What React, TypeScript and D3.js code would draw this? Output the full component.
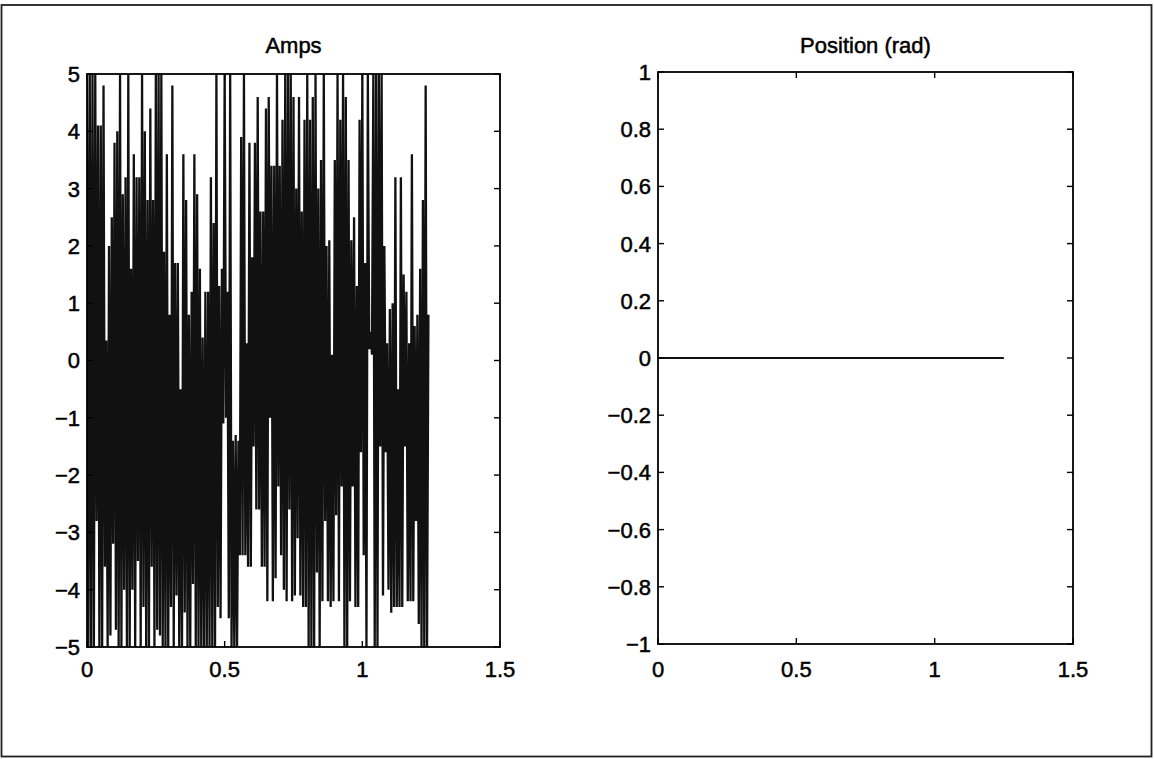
import React from "react";
import * as d3 from "d3";

// ---- Data ----
const sampleStep = 0.005; // s between current samples
const ampsValues: number[] = [
  5, -5, 5, -5, 5, -5, 5, -2.8, 4.1, -5, 4.1, -5, 4.8, -3.6, 0.35, -5, 2.0, -4.8, 2.5, -3.2,
  3.8, -4.7, 4.0, -5, 5, -5, 2.9, -4.0, 3.2, -5, 5, -5, 1.6, -4.0, 3.6, -5, 3.2, -3.5, 3.2, -5,
  5, -4.3, 4.0, -5, 2.8, -5, 4.4, -3.6, 2.8, -5, 5, -4.7, 5, -4.8, 5, -5, 1.9, -5, 3.6, -5,
  0.8, -4.3, 4.8, -5, 1.7, -4.1, 1.7, -5, -0.5, -5, 3.6, -4.4, 2.8, -5, 0.8, -5, 1.2, -3.9, 3.6, -5,
  2.9, -5, 1.6, -5, 0.4, -5, 1.2, -5, 1.2, -5, 3.2, -5, 2.4, -5, 5, -4.3, 1.3, -4.5, 1.6, -1.1,
  5, -1.0, 1.2, -4.5, 5, -5, -1.4, -5, -1.3, -5, -1.4, -3.4, 3.9, -3.4, 5, -3.4, 0.3, -3.6, 3.8, -3.6,
  1.8, -1.5, 3.8, -2.6, 4.6, -2.6, 2.6, -3.6, 2.6, -3.6, 4.4, -4.2, 4.6, -1.0, 3.4, -4.2, 3.4, -3.8, 5, -2.2,
  3.4, -3.4, 4.2, -4.0, 5, -4.2, 5, -2.6, 5, -4.2, 4.6, -4.1, 3.0, -3.1, 4.6, -4.1, 2.6, -4.3, 4.2, -4.3,
  5, -5, 4.2, -5, 4.6, -5, 5, -3.7, 3.0, -5, 3.5, -4.2, 5, -2.8, 2.0, -4.2, 2.1, -4.3, 0.1, -4.2,
  3.5, -2.7, 5, -4.2, 4.2, -2.2, 5, -5, 4.6, -5, 3.5, -4.2, 2.1, -2.2, 2.5, -4.3, 1.3, -4.3, 4.2, -1.6,
  5, -3.4, 1.7, -5, 5, 0.2, 0.5, 0.1, 5, -5, 5, -5, 5, -1.5, 5, -4.1, 2.0, -1.6, 0.3, -4.0,
  0.9, -4.4, 1.0, -4.3, 3.2, -4.3, -0.5, -4.3, 3.2, -4.3, 1.5, -1.5, 1.2, -4.2, 0.3, -4.2, 3.6, -4.2, 0.6, -2.8,
  0.8, -4.6, 1.6, -5, 2.8, -5, 4.8, -5, 0.8,
];
const positionTimes = [0, 0.25, 0.5, 0.75, 1.0, 1.25];
const positionValues = [0, 0, 0, 0, 0, 0];

const xTicks = [0, 0.5, 1, 1.5];
const xTickLabels = ["0", "0.5", "1", "1.5"];
const ampsTicks = [-5, -4, -3, -2, -1, 0, 1, 2, 3, 4, 5];
const posTicks = [-1, -0.8, -0.6, -0.4, -0.2, 0, 0.2, 0.4, 0.6, 0.8, 1];

const titles = ["Amps", "Position (rad)"];

const W = 1154;
const H = 759;
const FONT = "'Liberation Sans', Arial, Helvetica, sans-serif";
const FS = 22;

function fmt(v: number): string {
  const s = d3.format("~g")(Math.round(v * 10) / 10);
  return s.replace("-", "\u2212");
}

type PanelProps = {
  x0: number;
  x1: number;
  y0: number;
  y1: number;
  yDomain: [number, number];
  yTicks: number[];
  title: string;
  times: number[];
  values: number[];
  strokeW: number;
  clipId: string;
};

const textStyle = {
  fontFamily: FONT,
  fontSize: FS,
  fill: "#000",
  stroke: "#000",
  strokeWidth: 0.5,
};

function Panel(p: PanelProps) {
  const xs = d3.scaleLinear().domain([0, 1.5]).range([p.x0, p.x1]);
  const ys = d3.scaleLinear().domain(p.yDomain).range([p.y1, p.y0]);
  const pts: [number, number][] = p.values.map((v, i) => [p.times[i], v]);
  const line = d3
    .line<[number, number]>()
    .x((d) => xs(d[0]))
    .y((d) => ys(d[1]));
  const tl = 6;
  return (
    <g>
      <defs>
        <clipPath id={p.clipId}>
          <rect x={p.x0} y={p.y0 - 1} width={p.x1 - p.x0} height={p.y1 - p.y0 + 2} />
        </clipPath>
      </defs>
      <path
        d={line(pts) || ""}
        fill="none"
        stroke="#111"
        strokeWidth={p.strokeW}
        strokeLinejoin="bevel"
        clipPath={`url(#${p.clipId})`}
      />
      <rect
        x={p.x0}
        y={p.y0}
        width={p.x1 - p.x0}
        height={p.y1 - p.y0}
        fill="none"
        stroke="#000"
        strokeWidth={1.8}
      />
      {xTicks.map((t, i) => (
        <g key={"xt" + i}>
          <line x1={xs(t)} x2={xs(t)} y1={p.y1} y2={p.y1 - tl} stroke="#000" strokeWidth={1.4} />
          <line x1={xs(t)} x2={xs(t)} y1={p.y0} y2={p.y0 + tl} stroke="#000" strokeWidth={1.4} />
          <text x={xs(t)} y={677} textAnchor="middle" style={textStyle}>
            {xTickLabels[i]}
          </text>
        </g>
      ))}
      {p.yTicks.map((t, i) => (
        <g key={"yt" + i}>
          <line x1={p.x0} x2={p.x0 + tl} y1={ys(t)} y2={ys(t)} stroke="#000" strokeWidth={1.4} />
          <line x1={p.x1} x2={p.x1 - tl} y1={ys(t)} y2={ys(t)} stroke="#000" strokeWidth={1.4} />
          <text x={p.x0 - 7} y={ys(t)} dy="0.36em" textAnchor="end" style={textStyle}>
            {fmt(t)}
          </text>
        </g>
      ))}
      <text x={(p.x0 + p.x1) / 2} y={53} textAnchor="middle" style={textStyle}>
        {p.title}
      </text>
    </g>
  );
}

export default function App() {
  const ampsTimes = ampsValues.map((_, i) => i * sampleStep);
  return (
    <svg
      width={W}
      height={H}
      style={{ position: "absolute", left: 0, top: 0, background: "#fff" }}
    >
      <rect x={0} y={0} width={W} height={H} fill="#fff" />
      <rect x={1.5} y={5} width={1150} height={751.5} fill="none" stroke="#222" strokeWidth={1.8} />
      <Panel
        x0={87}
        x1={500}
        y0={74}
        y1={647}
        yDomain={[-5, 5]}
        yTicks={ampsTicks}
        title={titles[0]}
        times={ampsTimes}
        values={ampsValues}
        strokeW={2.3}
        clipId="clipA"
      />
      <Panel
        x0={658}
        x1={1073}
        y0={72}
        y1={644}
        yDomain={[-1, 1]}
        yTicks={posTicks}
        title={titles[1]}
        times={positionTimes}
        values={positionValues}
        strokeW={2.2}
        clipId="clipB"
      />
    </svg>
  );
}
